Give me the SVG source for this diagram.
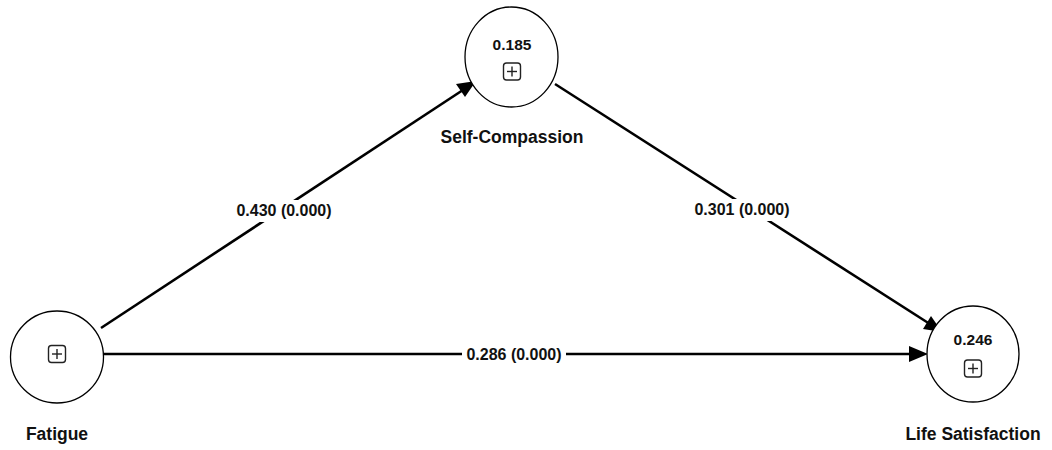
<svg xmlns="http://www.w3.org/2000/svg" width="1052" height="450" viewBox="0 0 1052 450">
<defs>
<style>
.node{fill:#fff;stroke:#000;stroke-width:1.3}
.lbl{font-family:"Liberation Sans",Arial,sans-serif;font-weight:bold;font-size:17.5px;fill:#111;text-anchor:middle}
.val{font-family:"Liberation Sans",Arial,sans-serif;font-weight:bold;font-size:15.5px;fill:#111;text-anchor:middle}
.edge{stroke:#000;stroke-width:2.6;fill:none}
.elbl{font-family:"Liberation Sans",Arial,sans-serif;font-weight:bold;font-size:16px;fill:#111;text-anchor:middle}
.box{fill:#fff;stroke:#222;stroke-width:1.4}
.pl{stroke:#222;stroke-width:1.4}
.head{fill:#000}
</style>
</defs>
<rect width="1052" height="450" fill="#fff"/>
<g id="connectors">
<line class="edge" x1="101" y1="328" x2="466" y2="88"/>
<line class="edge" x1="555" y1="84" x2="933" y2="326"/>
<line class="edge" x1="103" y1="354" x2="914" y2="354"/>
<path class="head" d="M476,81 L456,84 L465,97 z"/>
<path class="head" d="M942,332 L931,316 L923,329 z"/>
<path class="head" d="M928,354 L909,346 L909,362 z"/>
<rect x="232" y="200" width="104" height="22" fill="#fff"/>
<text class="elbl" x="284" y="216">0.430 (0.000)</text>
<rect x="690" y="199" width="104" height="22" fill="#fff"/>
<text class="elbl" x="742" y="215">0.301 (0.000)</text>
<rect x="462" y="343" width="104" height="22" fill="#fff"/>
<text class="elbl" x="514" y="360">0.286 (0.000)</text>
</g>
<g id="node-self-compassion">
<ellipse class="node" cx="511.5" cy="57" rx="46.5" ry="50"/>
<text class="val" x="512" y="50">0.185</text>
<rect class="box" x="503.5" y="63" width="17" height="17" rx="3"/>
<line class="pl" x1="507" y1="71.5" x2="517" y2="71.5"/>
<line class="pl" x1="512" y1="66.5" x2="512" y2="76.5"/>
<text class="lbl" x="512" y="143">Self-Compassion</text>
</g>
<g id="node-fatigue">
<ellipse class="node" cx="57" cy="357" rx="46.5" ry="46"/>
<rect class="box" x="48.5" y="345.5" width="17" height="17" rx="3"/>
<line class="pl" x1="52" y1="354" x2="62" y2="354"/>
<line class="pl" x1="57" y1="349" x2="57" y2="359"/>
<text class="lbl" x="57" y="440">Fatigue</text>
</g>
<g id="node-life-satisfaction">
<ellipse class="node" cx="973" cy="354" rx="46" ry="48"/>
<text class="val" x="973" y="345">0.246</text>
<rect class="box" x="964.5" y="360" width="17" height="17" rx="3"/>
<line class="pl" x1="968" y1="368.5" x2="978" y2="368.5"/>
<line class="pl" x1="973" y1="363.5" x2="973" y2="373.5"/>
<text class="lbl" x="973" y="440">Life Satisfaction</text>
</g>
</svg>
